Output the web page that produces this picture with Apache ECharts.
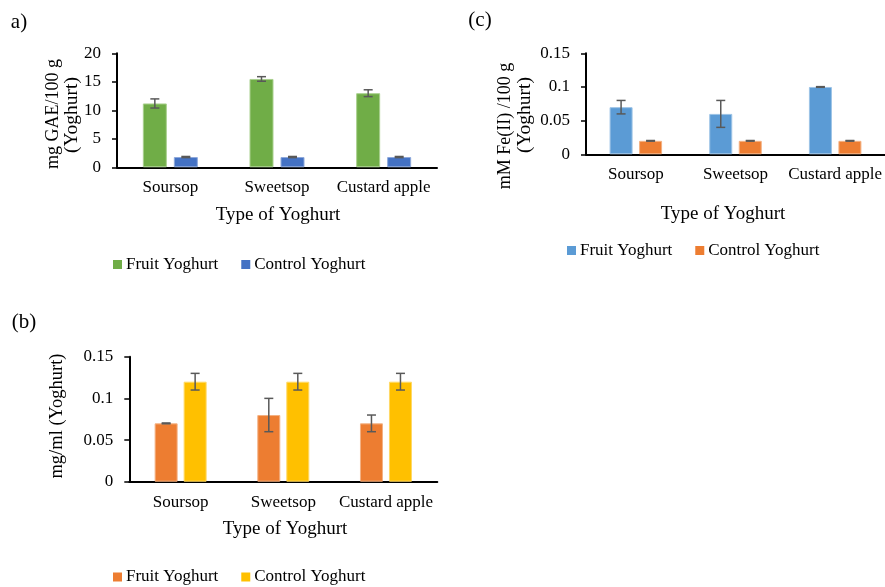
<!DOCTYPE html>
<html>
<head>
<meta charset="utf-8">
<script src="https://cdn.jsdelivr.net/npm/echarts@6/dist/echarts.min.js"></script>
<style>html,body{margin:0;padding:0;background:#fff}#c{width:885px;height:587px}</style>
</head>
<body>
<div id="c"></div>
<script>
const categories = ['Soursop', 'Sweetsop', 'Custard apple'];
const legendNames = ['Fruit Yoghurt', 'Control Yoghurt'];

// Panel a) total phenolics, mg GAE/100 g
const aFruit = [11.2, 15.5, 13.0];
const aFruitErr = [0.8, 0.4, 0.6];
const aControl = [1.8, 1.8, 1.8];
const aControlErr = [0.1, 0.1, 0.1];
const aTicks = {min: 0, max: 20, interval: 5};

// Panel (b) mg/ml
const bFruit = [0.07, 0.08, 0.07];
const bFruitErr = [0.0005, 0.02, 0.01];
const bControl = [0.12, 0.12, 0.12];
const bControlErr = [0.01, 0.01, 0.01];
const bTicks = {min: 0, max: 0.15, interval: 0.05};

// Panel (c) mM Fe(II)/100 g
const cFruit = [0.07, 0.06, 0.10];
const cFruitErr = [0.01, 0.02, 0.0005];
const cControl = [0.02, 0.02, 0.02];
const cControlErr = [0.0005, 0.0005, 0.0005];
const cTicks = {min: 0, max: 0.15, interval: 0.05};

const FONT = '"Liberation Serif", "Times New Roman", serif';
const chart = echarts.init(document.getElementById('c'));

const panels = [
  {id: 'a', grid: {left: 117, top: 53.3, width: 320, height: 114}, ticks: aTicks,
   fruit: aFruit, fruitErr: aFruitErr, control: aControl, controlErr: aControlErr,
   colors: ['#70AD47', '#4472C4'], borders: ['#A9D08E', '#8EA9DB'], bw: 24, gap: 7,
   fmt: v => String(v), legend: {left: 113, top: 256}},
  {id: 'b', grid: {left: 129.3, top: 356.7, width: 308, height: 125}, ticks: bTicks,
   fruit: bFruit, fruitErr: bFruitErr, control: bControl, controlErr: bControlErr,
   colors: ['#ED7D31', '#FFC000'], borders: ['#F4B183', '#FFD966'], bw: 23, gap: 6,
   fmt: v => String(+v.toFixed(2)), legend: {left: 113, top: 568.5}},
  {id: 'c', grid: {left: 586, top: 53.3, width: 310, height: 101}, ticks: cTicks,
   fruit: cFruit, fruitErr: cFruitErr, control: cControl, controlErr: cControlErr,
   colors: ['#5B9BD5', '#ED7D31'], borders: ['#9DC3E6', '#F4B183'], bw: 23, gap: 6.5,
   fmt: v => String(+v.toFixed(2)), legend: {left: 567, top: 242}}
];

const grid = [], xAxis = [], yAxis = [], series = [], legend = [];
panels.forEach((p, i) => {
  grid.push(Object.assign({containLabel: false}, p.grid));
  xAxis.push({
    type: 'category', gridIndex: i, data: categories,
    axisLine: {lineStyle: {color: '#000', width: 2}},
    axisTick: {show: false},
    axisLabel: {color: '#000', fontFamily: FONT, fontSize: 17, margin: 12, interval: 0}
  });
  yAxis.push({
    type: 'value', gridIndex: i, min: p.ticks.min, max: p.ticks.max, interval: p.ticks.interval,
    axisLine: {show: true, lineStyle: {color: '#000', width: 2}},
    axisTick: {show: true, length: 5, lineStyle: {color: '#000', width: 1.5}},
    splitLine: {show: false},
    axisLabel: {color: '#000', fontFamily: FONT, fontSize: 17, margin: 16, formatter: p.fmt}
  });
  const names = legendNames.map(n => p.id + ':' + n);
  const vals = [p.fruit, p.control];
  const errs = [p.fruitErr, p.controlErr];
  names.forEach((nm, k) => {
    series.push({
      name: nm, type: 'bar', xAxisIndex: i, yAxisIndex: i, data: vals[k],
      barWidth: p.bw, barGap: (p.gap / p.bw * 100) + '%',
      itemStyle: {color: p.colors[k], borderColor: p.borders[k], borderWidth: 1},
      silent: true
    });
  });
  names.forEach((nm, k) => {
    const off = (k === 0 ? -1 : 1) * (p.bw + p.gap) / 2;
    series.push({
      type: 'custom', xAxisIndex: i, yAxisIndex: i, z: 5, silent: true,
      data: vals[k].map((v, j) => [j, v, errs[k][j]]),
      renderItem: function (params, api) {
        const c = api.value(0), v = api.value(1), e = api.value(2);
        const top = api.coord([c, v + e]);
        const bot = api.coord([c, v - e]);
        const x = top[0] + off;
        const cap = 4.5;
        const st = {stroke: '#595959', lineWidth: 1.5};
        return {type: 'group', children: [
          {type: 'line', shape: {x1: x, y1: top[1], x2: x, y2: bot[1]}, style: st},
          {type: 'line', shape: {x1: x - cap, y1: top[1], x2: x + cap, y2: top[1]}, style: st},
          {type: 'line', shape: {x1: x - cap, y1: bot[1], x2: x + cap, y2: bot[1]}, style: st}
        ]};
      }
    });
  });
  legend.push({
    data: names, left: p.legend.left, top: p.legend.top, orient: 'horizontal', padding: 0,
    icon: 'rect', itemWidth: 9, itemHeight: 9, itemGap: 23,
    itemStyle: {borderWidth: 0},
    selectedMode: false,
    formatter: n => n.split(':')[1],
    textStyle: {color: '#000', fontFamily: FONT, fontSize: 17, padding: [0, 0, 0, -1]}
  });
});

function txt(x, y, text, size, rot) {
  return {type: 'text', x: x, y: y, rotation: rot ? Math.PI / 2 : 0, silent: true,
    style: {text: text, fill: '#000', font: size + 'px ' + FONT, textAlign: 'center', textVerticalAlign: 'middle'}};
}

const graphic = [
  txt(19, 22, 'a)', 21),
  txt(24, 322, '(b)', 21),
  txt(480, 20, '(c)', 21),
  txt(53, 114, 'mg GAE/100 g', 18, true),
  txt(72, 115, '(Yoghurt)', 19.5, true),
  txt(57, 416, 'mg/ml (Yoghurt)', 18.5, true),
  txt(505, 126, 'mM Fe(II) /100 g', 18, true),
  txt(525, 115, '(Yoghurt)', 19.5, true),
  txt(278, 215, 'Type of Yoghurt', 19),
  txt(285, 529, 'Type of Yoghurt', 19),
  txt(723, 214, 'Type of Yoghurt', 19)
];

chart.setOption({animation: false, grid, xAxis, yAxis, series, legend, graphic});
</script>
</body>
</html>
